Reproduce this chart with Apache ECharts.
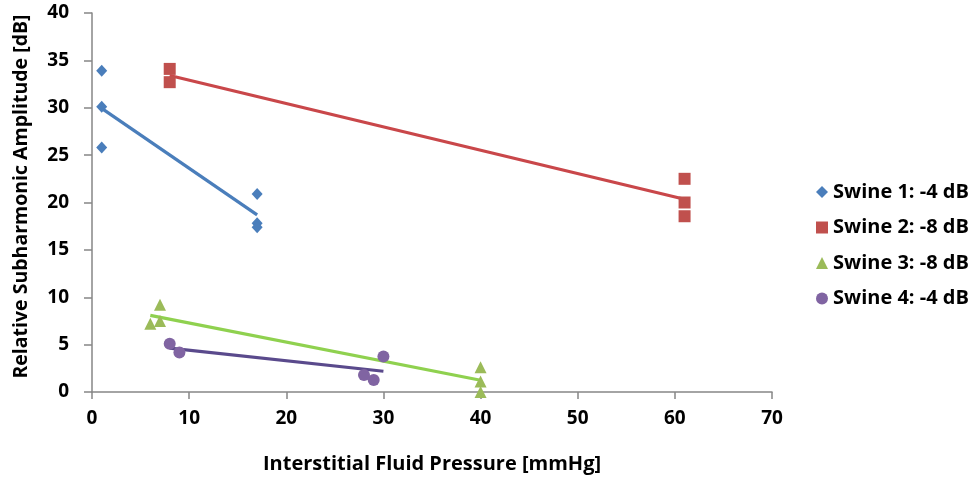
<!DOCTYPE html>
<html>
<head>
<meta charset="utf-8">
<script src="https://cdn.jsdelivr.net/npm/echarts@6/dist/echarts.min.js"></script>
<style>
  html, body { margin: 0; padding: 0; background: #ffffff; }
  #chart { width: 979px; height: 478px; }
</style>
</head>
<body>
<div id="chart"></div>
<script>
// ---- data ----
const seriesNames = ['Swine 1: -4 dB', 'Swine 2: -8 dB', 'Swine 3: -8 dB', 'Swine 4: -4 dB'];
const swine1X = [1, 1, 1, 17, 17, 17];
const swine1Y = [33.9, 30.1, 25.8, 20.9, 17.8, 17.4];
const swine2X = [8, 8, 61, 61, 61];
const swine2Y = [34.1, 32.7, 22.5, 20.0, 18.55];
const swine3X = [6, 7, 7, 40, 40, 40];
const swine3Y = [7.2, 9.2, 7.5, 2.6, 1.1, 0.0];
const swine4X = [8, 9, 28, 29, 30];
const swine4Y = [5.08, 4.16, 1.8, 1.27, 3.74];
const xTicks = [0, 10, 20, 30, 40, 50, 60, 70];
const yTicks = [0, 5, 10, 15, 20, 25, 30, 35, 40];

const markerColors = ['#4a7ebb', '#c0504d', '#9bbb59', '#8064a2'];
const lineColors = ['#4a7ebb', '#c9474a', '#8fd14f', '#5a4a8c'];
const symbols = ['diamond', 'rect', 'triangle', 'circle'];
const symbolSizes = [[11, 12], 12, 12, 12];
const legendIcons = ['diamond', 'rect', 'triangle', 'circle'];

const xs = [swine1X, swine2X, swine3X, swine4X];
const ys = [swine1Y, swine2Y, swine3Y, swine4Y];

function pairs(x, y) { return x.map((v, i) => [v, y[i]]); }
function trend(x, y) {
  const n = x.length;
  const mx = x.reduce((a, b) => a + b, 0) / n;
  const my = y.reduce((a, b) => a + b, 0) / n;
  let sxx = 0, sxy = 0;
  for (let i = 0; i < n; i++) { sxx += (x[i] - mx) ** 2; sxy += (x[i] - mx) * (y[i] - my); }
  const b = sxy / sxx, a = my - b * mx;
  const x0 = Math.min(...x), x1 = Math.max(...x);
  return [[x0, a + b * x0], [x1, a + b * x1]];
}

const FONT = '"Open Sans"';
const series = [];
for (let i = 0; i < 4; i++) {
  series.push({
    type: 'line', data: trend(xs[i], ys[i]), showSymbol: false, silent: true,
    lineStyle: { color: lineColors[i], width: 3.2 }, z: 2, legendHoverLink: false
  });
}
for (let i = 0; i < 4; i++) {
  series.push({
    name: seriesNames[i], type: 'scatter', data: pairs(xs[i], ys[i]),
    symbol: symbols[i], symbolSize: symbolSizes[i],
    itemStyle: { color: markerColors[i], opacity: 1 }, z: 3
  });
}

const chart = echarts.init(document.getElementById('chart'), null, { renderer: 'canvas' });
chart.setOption({
  animation: false,
  backgroundColor: '#ffffff',
  grid: { left: 92, right: 207, top: 13, bottom: 86, containLabel: false, outerBoundsMode: 'none' },
  legend: {
    data: seriesNames.map((n, i) => ({ name: n, icon: legendIcons[i] })),
    orient: 'vertical', left: 811, top: 177, itemGap: 15.5,
    itemWidth: 12, itemHeight: 12,
    textStyle: { fontFamily: FONT, fontWeight: 'bold', fontSize: 20, color: '#000' }
  },
  xAxis: {
    type: 'value', min: xTicks[0], max: xTicks[xTicks.length - 1], interval: 10,
    name: 'Interstitial Fluid Pressure [mmHg]', nameLocation: 'middle', nameGap: 62,
    nameTextStyle: { fontFamily: FONT, fontWeight: 'bold', fontSize: 20, color: '#000' },
    axisLine: { show: true, lineStyle: { color: '#868686', width: 1.5 } },
    axisTick: { show: true, length: 7, lineStyle: { color: '#868686', width: 1.5 } },
    axisLabel: { margin: 17, fontFamily: FONT, fontWeight: 'bold', fontSize: 19, color: '#000' },
    splitLine: { show: false }
  },
  yAxis: {
    type: 'value', min: yTicks[0], max: yTicks[yTicks.length - 1], interval: 5,
    name: 'Relative Subharmonic Amplitude [dB]', nameLocation: 'middle', nameGap: 61,
    nameTextStyle: { fontFamily: FONT, fontWeight: 'bold', fontSize: 19.5, color: '#000', padding: [0, 0, 0, 12] },
    axisLine: { show: true, lineStyle: { color: '#868686', width: 1.5 } },
    axisTick: { show: true, length: 8, lineStyle: { color: '#868686', width: 1.5 } },
    axisLabel: { margin: 23, fontFamily: FONT, fontWeight: 'bold', fontSize: 19, color: '#000' },
    splitLine: { show: false }
  },
  series: series
});
</script>
</body>
</html>
